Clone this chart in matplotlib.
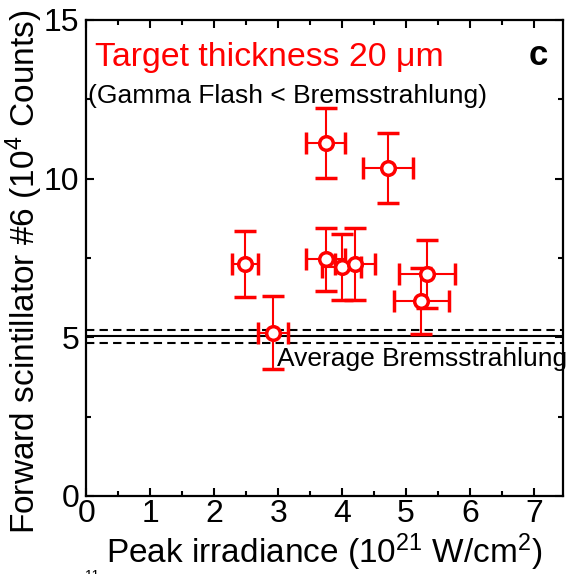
import matplotlib
matplotlib.use("Agg")
import matplotlib.pyplot as plt
from matplotlib.ticker import MultipleLocator

plt.rcParams['font.family'] = ['Liberation Sans', 'DejaVu Sans']
plt.rcParams['mathtext.fontset'] = 'custom'
plt.rcParams['mathtext.rm'] = 'Liberation Sans'
plt.rcParams['mathtext.it'] = 'Liberation Sans'

# data
irradiance = [2.48, 2.92, 3.74, 3.99, 4.20, 5.33, 5.24, 3.74, 4.72]
irr_err = [0.20, 0.24, 0.31, 0.31, 0.32, 0.44, 0.43, 0.31, 0.39]
counts = [7.31, 5.15, 7.46, 7.23, 7.32, 6.99, 6.15, 11.13, 10.34]
counts_err = [1.05, 1.14, 1.00, 1.04, 1.13, 1.07, 1.05, 1.10, 1.11]
brems_avg = 5.03
brems_band = [4.82, 5.24]

fig = plt.figure(figsize=(5.66, 5.74), dpi=100)
ax = fig.add_axes([0.1528, 0.1359, 0.9942 - 0.1528, 0.9652 - 0.1359])

ax.axhline(brems_avg, color='black', lw=1.5, zorder=1)
for b in brems_band:
    ax.axhline(b, color='black', lw=1.5, ls=(0, (4, 2.5)), zorder=1)

ax.errorbar(irradiance, counts, xerr=irr_err, yerr=counts_err, fmt='o',
            color='red', ecolor='red', elinewidth=1.5, capsize=8, capthick=1.5,
            markersize=9.8, markerfacecolor='white', markeredgecolor='red',
            markeredgewidth=2.5, zorder=3)

ax.set_xlim(0, 7.45)
ax.set_ylim(0, 15)
ax.xaxis.set_major_locator(MultipleLocator(1))
ax.xaxis.set_minor_locator(MultipleLocator(0.5))
ax.yaxis.set_major_locator(MultipleLocator(5))
ax.yaxis.set_minor_locator(MultipleLocator(2.5))
ax.tick_params(which='both', direction='in', top=True, right=True, width=1.5,
               labelsize=23)
ax.tick_params(which='major', length=6, pad=2)
ax.tick_params(which='minor', length=3.5)
ax.tick_params(axis='y', pad=5)
for s in ax.spines.values():
    s.set_linewidth(1.6)

ax.set_xlabel('Peak irradiance (10$^{21}$ W/cm$^{2}$)', fontsize=24,
              va='center')
ax.set_ylabel('Forward scintillator #6 (10$^{4}$ Counts)', fontsize=24,
              va='center', ha='center')
ax.xaxis.set_label_coords(0.5, -0.118)
ax.yaxis.set_label_coords(-0.131, 0.47)

ax.text(0.018, 0.903, 'Target thickness 20 μm', transform=ax.transAxes,
        color='red', fontsize=24.4, ha='left', va='baseline')
ax.text(0.003, 0.826, '(Gamma Flash < Bremsstrahlung)', transform=ax.transAxes,
        color='black', fontsize=19, ha='left', va='baseline')
ax.text(0.948, 0.926, 'c', transform=ax.transAxes, color='black',
        fontsize=25, fontweight='bold', ha='center', va='center')
ax.text(2.98, 4.11, 'Average Bremsstrahlung', color='black', fontsize=19,
        ha='left', va='baseline')

fig.text(0.150, 0.009, '11', fontsize=10, ha='left', va='top')

fig.savefig('out.png', dpi=100)
